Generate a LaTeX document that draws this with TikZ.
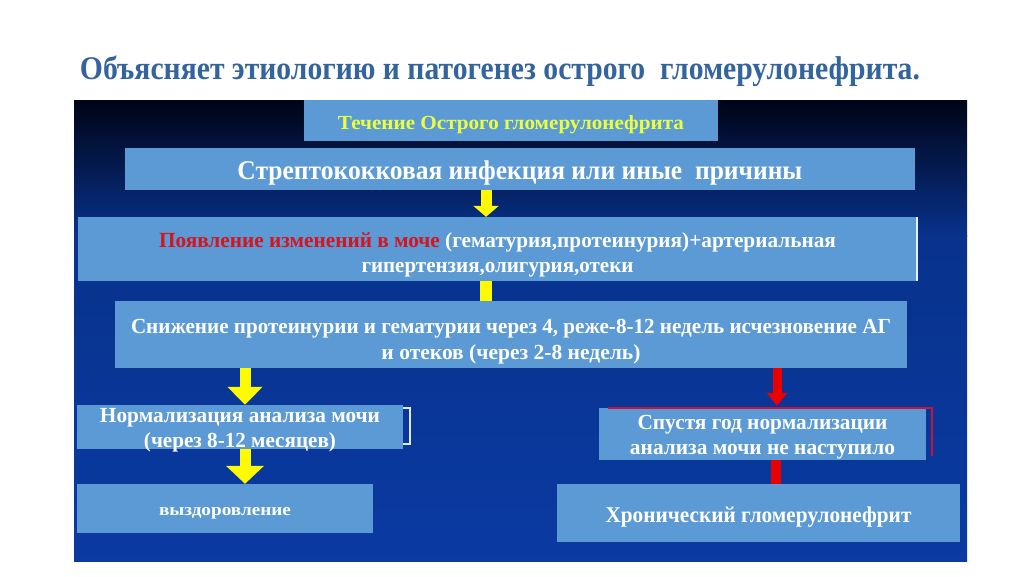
\documentclass[tikz,border=0pt]{standalone}
\usepackage{fontspec}
\setmainfont{Liberation Serif}
\usepackage{graphicx}
\usetikzlibrary{arrows.meta,calc}
\definecolor{boxblue}{RGB}{91,154,212}
\definecolor{paneltop}{RGB}{0,4,22}
\definecolor{panelmid}{RGB}{8,50,140}
\definecolor{panelbot}{RGB}{10,58,162}
\definecolor{titleblue}{RGB}{52,100,158}
\definecolor{arrowyellow}{RGB}{255,250,0}
\definecolor{arrowred}{RGB}{235,0,0}
\definecolor{txtred}{RGB}{215,20,30}
\definecolor{txtyellow}{RGB}{235,255,60}
\definecolor{bracketred}{RGB}{200,20,60}
\newcommand\fitto[2]{\resizebox{#1pt}{\height}{#2}}
\begin{document}
\begin{tikzpicture}[x=1pt,y=-1pt,
  box/.style={fill=boxblue, inner sep=0pt},
  boxtext/.style={inner sep=0pt, text=white, font=\bfseries\fontsize{21.5}{25.5}\selectfont, align=center},
  yarrow/.style={draw=arrowyellow, line width=11pt},
  rarrow/.style={draw=arrowred, line width=9pt},
]
\useasboundingbox (0,0) rectangle (1024,576);
\fill[white] (0,0) rectangle (1024,576);
% panel
\shade[top color=paneltop, bottom color=panelmid] (74,100) rectangle (967,236);
\shade[top color=panelmid, bottom color=panelbot] (74,235) rectangle (967,561);

\node[text=titleblue, font=\bfseries\fontsize{33}{36}\selectfont] (title) at (500,71)
  {\fitto{840}{Объясняет этиологию и патогенез острого\ \ гломерулонефрита.}};

% boxes
\node[box, minimum width=414pt, minimum height=41pt] (b1) at (511,120.5) {};
\node[box, minimum width=790pt, minimum height=42pt] (b2) at (520,169) {};
\node[box, minimum width=839pt, minimum height=64pt] (b3) at (497.5,249) {};
\node[box, minimum width=792pt, minimum height=67pt] (b4) at (511,334.5) {};
\node[box, minimum width=326pt, minimum height=44pt] (b5) at (240,427) {};
\node[box, minimum width=296pt, minimum height=49pt] (b6) at (225,508.5) {};
\node[box, minimum width=327pt, minimum height=52pt] (b7) at (762.5,434) {};
\node[box, minimum width=403pt, minimum height=58pt] (b8) at (758.5,513) {};

% texts
\node[boxtext, text=txtyellow, font=\bfseries\fontsize{20}{22}\selectfont] (t1) at ($(b1.center)+(0,4)$)
  {\fitto{346}{Течение Острого гломерулонефрита}};
\node[boxtext, font=\bfseries\fontsize{27}{30}\selectfont] (t2) at ($(b2.center)+(0,4)$)
  {\fitto{565}{Стрептококковая инфекция или иные\ \ причины}};
\node[boxtext] (t3) at ($(b3.center)+(0,6)$)
  {\fitto{677}{\textcolor{txtred}{Появление изменений в моче} (гематурия,протеинурия)+артериальная}\\
   \fitto{272}{гипертензия,олигурия,отеки}};
\node[boxtext] (t4) at ($(b4.center)+(0,7)$)
  {\fitto{760}{Снижение протеинурии и гематурии через 4, реже-8-12 недель исчезновение АГ}\\
   \fitto{259}{и отеков (через 2-8 недель)}};
\node[boxtext] (t5) at ($(b5.center)+(0,3)$)
  {\fitto{280}{Нормализация анализа мочи}\\ \fitto{192}{(через 8-12 месяцев)}};
\node[boxtext, font=\bfseries\fontsize{17}{20}\selectfont] (t6) at ($(b6.center)+(0,5)$)
  {\fitto{132}{выздоровление}};
\node[boxtext] (t7) at ($(b7.center)+(0,3)$)
  {\fitto{250}{Спустя год нормализации}\\ \fitto{265}{анализа мочи не наступило}};
\node[boxtext, font=\bfseries\fontsize{22.5}{25}\selectfont] (t8) at ($(b8.center)+(0,4)$)
  {\fitto{306}{Хронический гломерулонефрит}};

% light edge on box 3
\draw[white!85!boxblue, line width=1.5pt] (b3.north east) -- (b3.south east);

% arrow columns
\coordinate (xa) at (486,0);
\coordinate (xb) at (245,0);
\coordinate (xc) at (777,0);
\coordinate (xd) at (776,0);

\draw[yarrow, -{Triangle[width=25pt,length=11pt]}] (b2.south -| xa) -- (b3.north -| xa);
\draw[yarrow, line width=12pt] (b3.south -| xa) -- (b4.north -| xa);
\draw[yarrow, -{Triangle[width=34pt,length=18pt]}] (b4.south -| xb) -- (b5.north -| xb);
\draw[yarrow, -{Triangle[width=37pt,length=18pt]}] (b5.south -| xb) -- (b6.north -| xb);
\draw[rarrow, -{Triangle[width=20pt,length=13pt]}] (b4.south -| xc) -- ($(b7.north -| xc)+(0,-2)$);
\draw[rarrow, line width=10pt] (b7.south -| xd) -- (b8.north -| xd);

% brackets
\draw[white!80!boxblue, line width=2pt] ($(b5.north east)+(0,3)$) -- ++(7,0) |- ($(b5.south east)+(0,-5)$);
\draw[bracketred, line width=1.6pt] ($(b7.north west)+(9,0)$) -| ($(b7.south east)+(6,-4)$);
\end{tikzpicture}
\end{document}
